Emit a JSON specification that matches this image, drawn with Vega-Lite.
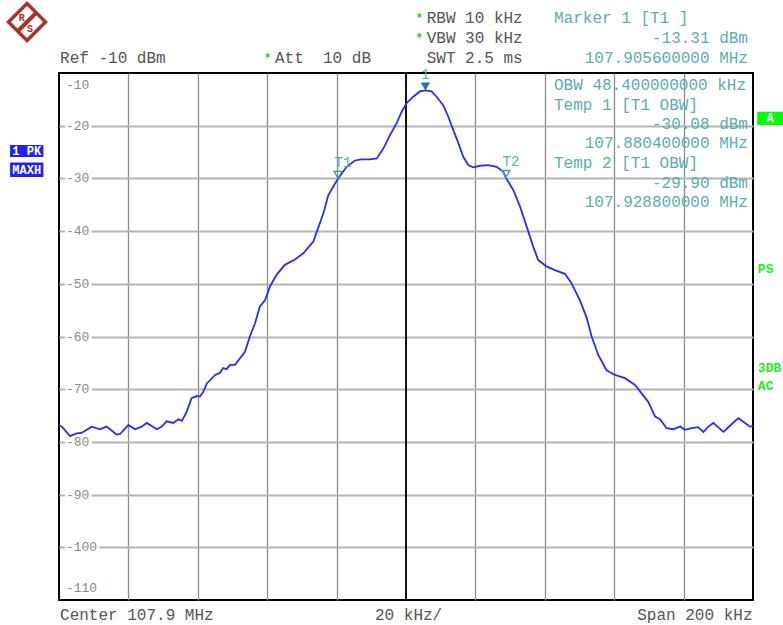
{
  "$schema": "https://vega.github.io/schema/vega-lite/v6.json",
  "width": 694,
  "height": 527,
  "autosize": "none",
  "padding": {"left": 59, "top": 73, "right": 30, "bottom": 25},
  "background": "white",
  "config": {
    "view": {"stroke": "#000000", "strokeWidth": 2},
    "font": "Liberation Mono",
    "axis": {"domain": false, "ticks": false, "labels": false}
  },
  "datasets": {
    "trace": [
      {"f": -100, "level": -76.8}, {"f": -99.2, "level": -77.1}, {"f": -96.8, "level": -78.9},
      {"f": -94.9, "level": -78.4}, {"f": -93.5, "level": -78.3}, {"f": -90.6, "level": -77.1},
      {"f": -88.2, "level": -77.6}, {"f": -86.3, "level": -77.1}, {"f": -83.4, "level": -78.6},
      {"f": -82.4, "level": -78.5}, {"f": -80.0, "level": -76.8}, {"f": -78.1, "level": -77.6},
      {"f": -76.2, "level": -77.1}, {"f": -74.7, "level": -76.4}, {"f": -71.8, "level": -77.6},
      {"f": -70.4, "level": -77.1}, {"f": -69.0, "level": -76.1}, {"f": -67.1, "level": -76.4},
      {"f": -65.6, "level": -75.7}, {"f": -64.6, "level": -76.0}, {"f": -63.2, "level": -74.3},
      {"f": -61.8, "level": -71.7}, {"f": -60.3, "level": -71.3}, {"f": -59.4, "level": -71.4},
      {"f": -58.4, "level": -70.5}, {"f": -57.4, "level": -68.9}, {"f": -55.0, "level": -67.3},
      {"f": -53.6, "level": -66.9}, {"f": -52.7, "level": -66.0}, {"f": -51.7, "level": -66.2},
      {"f": -50.7, "level": -65.4}, {"f": -49.3, "level": -65.4}, {"f": -47.8, "level": -64.1},
      {"f": -46.4, "level": -62.9}, {"f": -45.0, "level": -60.0}, {"f": -43.5, "level": -57.5},
      {"f": -42.1, "level": -54.3}, {"f": -40.6, "level": -53.1}, {"f": -39.2, "level": -50.5},
      {"f": -37.3, "level": -48.3}, {"f": -34.9, "level": -46.4}, {"f": -32.0, "level": -45.4},
      {"f": -29.6, "level": -44.2}, {"f": -26.7, "level": -42.0}, {"f": -25.7, "level": -40.1},
      {"f": -23.8, "level": -36.6}, {"f": -22.4, "level": -33.2}, {"f": -21.0, "level": -31.6},
      {"f": -19.6, "level": -30.08}, {"f": -17.1, "level": -27.8}, {"f": -14.7, "level": -26.6},
      {"f": -12.8, "level": -26.4}, {"f": -10.4, "level": -26.4}, {"f": -8.4, "level": -26.2},
      {"f": -6.5, "level": -24.3}, {"f": -4.6, "level": -21.8}, {"f": -2.7, "level": -19.5},
      {"f": -1.2, "level": -17.3}, {"f": 0.2, "level": -15.7}, {"f": 2.1, "level": -14.5},
      {"f": 4.0, "level": -13.5}, {"f": 5.6, "level": -13.31}, {"f": 7.4, "level": -13.5},
      {"f": 8.8, "level": -14.5}, {"f": 10.7, "level": -16.1}, {"f": 12.2, "level": -18.3},
      {"f": 13.6, "level": -20.8}, {"f": 15.1, "level": -23.3}, {"f": 16.5, "level": -25.9},
      {"f": 18.0, "level": -27.5}, {"f": 19.4, "level": -27.9}, {"f": 21.3, "level": -27.6},
      {"f": 23.7, "level": -27.5}, {"f": 26.1, "level": -27.8}, {"f": 28.0, "level": -28.7},
      {"f": 28.8, "level": -29.9}, {"f": 30.9, "level": -32.2}, {"f": 32.9, "level": -35.4},
      {"f": 34.8, "level": -39.2}, {"f": 36.7, "level": -43.0}, {"f": 38.1, "level": -45.5},
      {"f": 40.5, "level": -46.7}, {"f": 42.9, "level": -47.4}, {"f": 45.8, "level": -48.1},
      {"f": 47.7, "level": -49.9}, {"f": 50.1, "level": -53.1}, {"f": 52.1, "level": -56.5},
      {"f": 53.5, "level": -60.0}, {"f": 55.4, "level": -63.5}, {"f": 57.8, "level": -66.4},
      {"f": 60.2, "level": -67.3}, {"f": 63.1, "level": -67.9}, {"f": 66.0, "level": -69.2},
      {"f": 67.9, "level": -70.8}, {"f": 69.8, "level": -72.4}, {"f": 71.8, "level": -75.2},
      {"f": 73.2, "level": -75.7}, {"f": 75.1, "level": -77.4}, {"f": 77.0, "level": -77.6},
      {"f": 79.0, "level": -77.1}, {"f": 80.4, "level": -77.7}, {"f": 82.3, "level": -77.4},
      {"f": 84.2, "level": -77.2}, {"f": 85.7, "level": -78.1}, {"f": 87.1, "level": -77.1},
      {"f": 88.6, "level": -76.4}, {"f": 89.6, "level": -77.0}, {"f": 91.5, "level": -78.1},
      {"f": 93.9, "level": -76.6}, {"f": 95.8, "level": -75.5}, {"f": 97.7, "level": -76.4},
      {"f": 99.1, "level": -77.1}, {"f": 100, "level": -77.0}
    ],
    "yticks": [
      {"level": -10, "label": "-10"}, {"level": -20, "label": "-20"}, {"level": -30, "label": "-30"},
      {"level": -40, "label": "-40"}, {"level": -50, "label": "-50"}, {"level": -60, "label": "-60"},
      {"level": -70, "label": "-70"}, {"level": -80, "label": "-80"}, {"level": -90, "label": "-90"},
      {"level": -100, "label": "-100"}, {"level": -110, "label": "-110"}
    ],
    "markers": [
      {"name": "1", "f": 5.6, "level": -13.31, "kind": "filled"},
      {"name": "T1", "f": -19.6, "level": -30.08, "kind": "hollow"},
      {"name": "T2", "f": 28.8, "level": -29.9, "kind": "hollow"}
    ],
    "notes": [
      {"group": "hdr", "text": "Ref -10 dBm", "f": -99.7, "level": -7.1},
      {"group": "hdr", "text": "Att\u00a0 10 dB", "f": -37.75, "level": -7.1},
      {"group": "hdr", "text": "RBW 10 kHz", "f": 5.96, "level": 0.38},
      {"group": "hdr", "text": "VBW 30 kHz", "f": 5.96, "level": -3.36},
      {"group": "hdr", "text": "SWT 2.5 ms", "f": 5.96, "level": -7.1},
      {"group": "hdr", "text": "Center 107.9 MHz", "f": -99.7, "level": -112.85},
      {"group": "hdr", "text": "20 kHz/", "f": -8.93, "level": -112.85},
      {"group": "hdr_r", "text": "Span 200 kHz", "f": 99.85, "level": -112.85},
      {"group": "mk_l", "text": "Marker 1 [T1 ]", "f": 42.65, "level": 0.38},
      {"group": "mk_r", "text": "-13.31 dBm", "f": 98.55, "level": -3.36},
      {"group": "mk_r", "text": "107.905600000 MHz", "f": 98.55, "level": -7.1},
      {"group": "mk_l", "text": "OBW 48.400000000 kHz", "f": 42.65, "level": -12.28},
      {"group": "mk_l", "text": "Temp 1 [T1 OBW]", "f": 42.65, "level": -16.07},
      {"group": "mk_r", "text": "-30.08 dBm", "f": 98.55, "level": -19.74},
      {"group": "mk_r", "text": "107.880400000 MHz", "f": 98.55, "level": -23.35},
      {"group": "mk_l", "text": "Temp 2 [T1 OBW]", "f": 42.65, "level": -27.1},
      {"group": "mk_r", "text": "-29.90 dBm", "f": 98.55, "level": -30.8},
      {"group": "mk_r", "text": "107.928800000 MHz", "f": 98.55, "level": -34.4},
      {"group": "star", "text": "*", "f": -39.9, "level": -6.58},
      {"group": "star", "text": "*", "f": 3.84, "level": 1.0},
      {"group": "star", "text": "*", "f": 3.84, "level": -2.79},
      {"group": "stat", "text": "PS", "f": 101.4, "level": -47.2},
      {"group": "stat", "text": "3DB", "f": 101.4, "level": -66.07},
      {"group": "stat", "text": "AC", "f": 101.4, "level": -69.3},
      {"group": "logo", "text": "R", "f": -110.75, "level": 0.44},
      {"group": "logo", "text": "S", "f": -108.36, "level": -1.65}
    ],
    "boxes": [
      {"text": "1 PK", "f0": -114.1, "f1": -104.5, "l0": -23.66, "l1": -25.94, "fc": -109.3, "lc": -24.8, "side": "left"},
      {"text": "MAXH", "f0": -114.1, "f1": -104.5, "l0": -26.98, "l1": -29.73, "fc": -109.3, "lc": -28.35, "side": "left"},
      {"text": "A", "f0": 101.2, "f1": 109, "l0": -17.34, "l1": -19.86, "fc": 104.9, "lc": -18.6, "side": "right"}
    ]
  },
  "layer": [
    {
      "data": {"name": "trace"},
      "mark": {"type": "line", "stroke": "#2b2bff", "strokeWidth": 1.6, "opacity": 0},
      "encoding": {
        "x": {"field": "f", "type": "quantitative",
              "scale": {"domain": [-100, 100], "nice": false, "zero": false},
              "axis": {"title": null, "grid": true, "gridColor": "#8c8c8c", "gridWidth": 1.3,
                       "values": [-80, -60, -40, -20, 20, 40, 60, 80]}},
        "y": {"field": "level", "type": "quantitative",
              "scale": {"domain": [-110, -10], "nice": false, "zero": false},
              "axis": {"title": null, "grid": true, "gridColor": "#b4b4b4", "gridWidth": 2,
                       "values": [-20, -30, -40, -50, -60, -70, -80, -90, -100]}}
      }
    },
    {
      "data": {"values": [{}]},
      "mark": {"type": "rule", "color": "#111111", "strokeWidth": 2},
      "encoding": {"x": {"datum": 0}}
    },
    {
      "data": {"name": "yticks"},
      "transform": [{"filter": "datum.level > -110 && datum.level < -10"}],
      "mark": {"type": "text", "align": "left", "baseline": "middle", "fontSize": 13,
               "fill": "white", "stroke": "white", "strokeWidth": 6},
      "encoding": {"x": {"datum": -98}, "y": {"field": "level", "type": "quantitative"}, "text": {"field": "label"}}
    },
    {
      "data": {"name": "yticks"},
      "transform": [{"filter": "datum.level > -110 && datum.level < -10"}],
      "mark": {"type": "text", "align": "left", "baseline": "middle", "fontSize": 13, "color": "#8a8a8a"},
      "encoding": {"x": {"datum": -98}, "y": {"field": "level", "type": "quantitative"}, "text": {"field": "label"}}
    },
    {
      "data": {"name": "yticks"},
      "transform": [{"filter": "datum.level == -10"}],
      "mark": {"type": "text", "align": "left", "baseline": "middle", "fontSize": 13, "color": "#8a8a8a", "dy": 12},
      "encoding": {"x": {"datum": -98}, "y": {"field": "level", "type": "quantitative"}, "text": {"field": "label"}}
    },
    {
      "data": {"name": "yticks"},
      "transform": [{"filter": "datum.level == -110"}],
      "mark": {"type": "text", "align": "left", "baseline": "middle", "fontSize": 13, "color": "#8a8a8a", "dy": -12},
      "encoding": {"x": {"datum": -98}, "y": {"field": "level", "type": "quantitative"}, "text": {"field": "label"}}
    },
    {
      "data": {"name": "trace"},
      "mark": {"type": "line", "stroke": "#2b2bff", "strokeWidth": 1.8},
      "encoding": {
        "x": {"field": "f", "type": "quantitative"},
        "y": {"field": "level", "type": "quantitative"}
      }
    },
    {
      "data": {"name": "markers"},
      "transform": [{"filter": "datum.kind == 'filled'"}],
      "mark": {"type": "point", "shape": "triangle-down", "size": 85, "filled": true, "color": "#1f7c7c", "yOffset": -4, "opacity": 1},
      "encoding": {"x": {"field": "f", "type": "quantitative"}, "y": {"field": "level", "type": "quantitative"}}
    },
    {
      "data": {"name": "markers"},
      "transform": [{"filter": "datum.kind == 'hollow'"}],
      "mark": {"type": "point", "shape": "triangle-down", "size": 60, "filled": false, "color": "#3a9a9a", "strokeWidth": 1.3, "yOffset": -4, "opacity": 1},
      "encoding": {"x": {"field": "f", "type": "quantitative"}, "y": {"field": "level", "type": "quantitative"}}
    },
    {
      "data": {"name": "markers"},
      "transform": [{"filter": "datum.kind == 'filled'"}],
      "mark": {"type": "text", "fontSize": 14, "color": "#5aaeae", "baseline": "middle", "dy": -15},
      "encoding": {"x": {"field": "f", "type": "quantitative"}, "y": {"field": "level", "type": "quantitative"}, "text": {"field": "name"}}
    },
    {
      "data": {"name": "markers"},
      "transform": [{"filter": "datum.kind == 'hollow'"}],
      "mark": {"type": "text", "fontSize": 14, "color": "#5aaeae", "baseline": "middle", "dy": -16, "dx": 5},
      "encoding": {"x": {"field": "f", "type": "quantitative"}, "y": {"field": "level", "type": "quantitative"}, "text": {"field": "name"}}
    },
    {
      "data": {"name": "notes"},
      "transform": [{"filter": "datum.group == 'hdr'"}],
      "mark": {"type": "text", "align": "left", "baseline": "middle", "fontSize": 16, "color": "#555555"},
      "encoding": {"x": {"field": "f", "type": "quantitative"}, "y": {"field": "level", "type": "quantitative"}, "text": {"field": "text"}}
    },
    {
      "data": {"name": "notes"},
      "transform": [{"filter": "datum.group == 'hdr_r'"}],
      "mark": {"type": "text", "align": "right", "baseline": "middle", "fontSize": 16, "color": "#555555"},
      "encoding": {"x": {"field": "f", "type": "quantitative"}, "y": {"field": "level", "type": "quantitative"}, "text": {"field": "text"}}
    },
    {
      "data": {"name": "notes"},
      "transform": [{"filter": "datum.group == 'mk_l'"}],
      "mark": {"type": "text", "align": "left", "baseline": "middle", "fontSize": 16, "color": "#5aaeae"},
      "encoding": {"x": {"field": "f", "type": "quantitative"}, "y": {"field": "level", "type": "quantitative"}, "text": {"field": "text"}}
    },
    {
      "data": {"name": "notes"},
      "transform": [{"filter": "datum.group == 'mk_r'"}],
      "mark": {"type": "text", "align": "right", "baseline": "middle", "fontSize": 16, "color": "#5aaeae"},
      "encoding": {"x": {"field": "f", "type": "quantitative"}, "y": {"field": "level", "type": "quantitative"}, "text": {"field": "text"}}
    },
    {
      "data": {"name": "notes"},
      "transform": [{"filter": "datum.group == 'star'"}],
      "mark": {"type": "text", "align": "center", "baseline": "middle", "fontSize": 12, "fontWeight": "bold", "color": "#22cc22", "dy": 3},
      "encoding": {"x": {"field": "f", "type": "quantitative"}, "y": {"field": "level", "type": "quantitative"}, "text": {"field": "text"}}
    },
    {
      "data": {"name": "notes"},
      "transform": [{"filter": "datum.group == 'stat'"}],
      "mark": {"type": "text", "align": "left", "baseline": "middle", "fontSize": 13, "fontWeight": "bold", "color": "#22ee22"},
      "encoding": {"x": {"field": "f", "type": "quantitative"}, "y": {"field": "level", "type": "quantitative"}, "text": {"field": "text"}}
    },
    {
      "data": {"name": "boxes"},
      "transform": [{"filter": "datum.side == 'left'"}],
      "mark": {"type": "rect", "color": "#2020ff"},
      "encoding": {
        "x": {"field": "f0", "type": "quantitative"}, "x2": {"field": "f1"},
        "y": {"field": "l0", "type": "quantitative"}, "y2": {"field": "l1"}
      }
    },
    {
      "data": {"name": "boxes"},
      "transform": [{"filter": "datum.side == 'right'"}],
      "mark": {"type": "rect", "color": "#00ff00"},
      "encoding": {
        "x": {"field": "f0", "type": "quantitative"}, "x2": {"field": "f1"},
        "y": {"field": "l0", "type": "quantitative"}, "y2": {"field": "l1"}
      }
    },
    {
      "data": {"name": "boxes"},
      "mark": {"type": "text", "align": "center", "baseline": "middle", "fontSize": 12, "fontWeight": "bold", "color": "white"},
      "encoding": {"x": {"field": "fc", "type": "quantitative"}, "y": {"field": "lc", "type": "quantitative"}, "text": {"field": "text"}}
    },
    {
      "data": {"values": [{}]},
      "mark": {"type": "point", "shape": "M0,-1L1,0L0,1L-1,0Z", "size": 1369, "filled": false, "stroke": "#a8322c", "strokeWidth": 3.5, "opacity": 1},
      "encoding": {"x": {"datum": -109.22}, "y": {"datum": -0.32}}
    },
    {
      "data": {"values": [{}]},
      "mark": {"type": "point", "shape": "M0.5,-0.5L-0.5,0.5", "size": 1369, "filled": false, "stroke": "#a8322c", "strokeWidth": 4, "opacity": 1},
      "encoding": {"x": {"datum": -109.22}, "y": {"datum": -0.32}}
    },
    {
      "data": {"name": "notes"},
      "transform": [{"filter": "datum.group == 'logo'"}],
      "mark": {"type": "text", "align": "center", "baseline": "middle", "fontSize": 10, "fontWeight": "bold", "color": "#a8322c"},
      "encoding": {"x": {"field": "f", "type": "quantitative"}, "y": {"field": "level", "type": "quantitative"}, "text": {"field": "text"}}
    }
  ]
}
